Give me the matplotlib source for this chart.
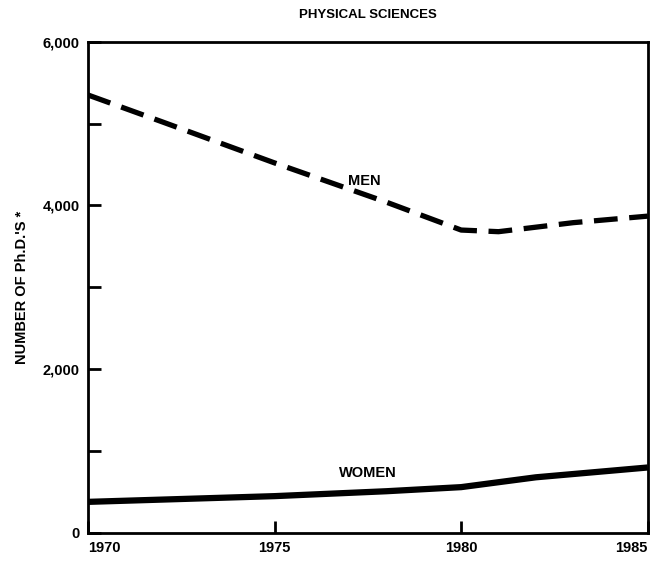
import matplotlib.pyplot as plt

# --- Data
years_men = [1970, 1972, 1975, 1978, 1980, 1981, 1983, 1985]
men = [5350, 5020, 4520, 4040, 3700, 3680, 3790, 3870]

years_women = [1970, 1975, 1978, 1980, 1982, 1985]
women = [380, 450, 510, 560, 680, 800]

x_ticks = [1970, 1975, 1980, 1985]
y_major = [0, 2000, 4000, 6000]
y_minor = [1000, 3000, 5000]
y_labels = ['0', '2,000', '4,000', '6,000']

plt.rcParams['font.family'] = ['Liberation Sans', 'DejaVu Sans']

fig = plt.figure(figsize=(6.61, 5.64), dpi=100)
ax = fig.add_axes([0.133, 0.055, 0.847, 0.871])

ax.plot(years_men, men, color='black', lw=3.8, dashes=(4.5, 2.2), solid_capstyle='butt')
ax.plot(years_women, women, color='black', lw=4.5, solid_capstyle='butt')

ax.set_xlim(1970, 1985)
ax.set_ylim(0, 6000)

ax.set_xticks(x_ticks)
xl = ax.set_xticklabels([str(y) for y in x_ticks], fontsize=10.5, fontweight='bold')
xl[0].set_ha('left')
xl[-1].set_ha('right')
ax.set_yticks(y_major)
ax.set_yticklabels(y_labels, fontsize=10.5, fontweight='bold')
ax.set_yticks(y_minor, minor=True)
ax.tick_params(axis='both', direction='in', length=9, width=2)
ax.tick_params(axis='y', which='minor', direction='in', length=9, width=2)
ax.tick_params(axis='x', pad=6)
ax.tick_params(axis='y', pad=6)

for s in ax.spines.values():
    s.set_linewidth(2)

ax.set_title('PHYSICAL SCIENCES', fontsize=9.5, fontweight='bold', pad=17)
ax.set_ylabel("NUMBER OF Ph.D.'S *", fontsize=10.5, fontweight='bold', labelpad=10)

ax.text(1977.4, 4300, 'MEN', fontsize=10.5, fontweight='bold', ha='center', va='center')
ax.text(1977.5, 730, 'WOMEN', fontsize=10.5, fontweight='bold', ha='center', va='center')

fig.savefig('out.png', dpi=100)
